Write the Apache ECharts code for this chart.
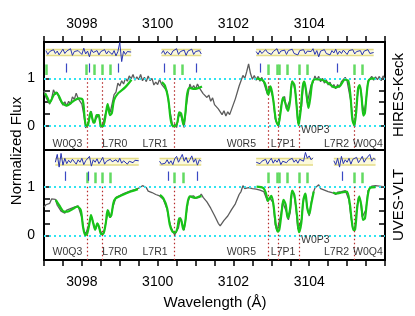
<!DOCTYPE html>
<html>
<head>
<meta charset="utf-8">
<script src="https://cdn.jsdelivr.net/npm/echarts@6/dist/echarts.min.js"></script>
<style>
  html, body { margin: 0; padding: 0; background: #fff; }
  #chart { width: 415px; height: 316px; }
</style>
</head>
<body>
<div id="chart"></div>
<script>
// wavelength sampling of the observed spectra
const lamStart = 3097.0;
const lamStep = 0.05;

// observed normalized flux, HIRES-Keck (top)
const hiresFlux = [
  0.74, 0.60, 0.63, 0.46, 0.57, 0.76, 0.66, 0.71, 0.58, 0.60,
  0.44, 0.51, 0.42, 0.52, 0.46, 0.61, 0.56, 0.69, 0.58, 0.62,
  0.46, 0.24, -0.04, 0.05, 0.16, 0.31, 0.06, 0.13, 0.16, 0.24,
  -0.03, 0.04, 0.06, 0.34, 0.41, 0.29, 0.26, 0.66, 0.71, 0.90,
  0.84, 0.95, 0.88, 1.00, 0.94, 1.05, 0.99, 1.08, 0.96, 1.03,
  0.97, 1.08, 0.95, 1.02, 0.93, 1.05, 0.95, 1.00, 0.86, 0.92,
  0.87, 0.98, 0.88, 0.90, 0.78, 0.72, 0.42, 0.21, -0.02, 0.04,
  -0.03, 0.19, 0.26, 0.24, -0.03, 0.39, 0.66, 0.88, 0.78, 0.85,
  0.77, 0.88, 0.80, 0.84, 0.68, 0.72, 0.60, 0.65, 0.52, 0.59,
  0.45, 0.49, 0.36, 0.39, 0.24, 0.32, 0.21, 0.30, 0.24, 0.35,
  0.36, 0.57, 0.60, 0.84, 0.87, 1.06, 1.00, 1.14, 1.30, 1.10,
  0.98, 1.06, 0.96, 1.04, 0.94, 1.02, 0.91, 0.92, 0.66, 0.84,
  0.80, 0.58, 0.16, 0.05, 0.00, 0.39, 0.56, 0.62, 0.36, 0.38,
  0.56, 0.95, 0.84, 0.63, 0.06, 0.09, 0.42, 0.92, 0.81, 0.49,
  0.46, 0.86, 0.91, 1.05, 0.97, 1.04, 0.93, 1.00, 0.90, 0.97,
  0.86, 0.92, 0.81, 0.87, 0.78, 0.87, 0.81, 0.93, 0.89, 1.02,
  0.94, 0.93, 0.51, 0.14, -0.02, 0.49, 0.78, 0.84, 0.46, 0.29,
  0.51, 0.94, 0.94, 1.04, 0.96, 1.03, 0.97, 1.04, 0.95, 1.05,
  0.98
];

// observed normalized flux, UVES-VLT (bottom)
const uvesFlux = [
  0.58, 0.63, 0.65, 0.66, 0.75, 0.71, 0.74, 0.62, 0.60, 0.50,
  0.51, 0.46, 0.52, 0.49, 0.55, 0.53, 0.58, 0.56, 0.61, 0.48,
  0.37, 0.10, 0.03, 0.06, 0.27, 0.38, 0.27, 0.11, 0.24, 0.16,
  0.08, 0.01, 0.14, 0.33, 0.52, 0.36, 0.53, 0.66, 0.78, 0.76,
  0.82, 0.80, 0.86, 0.83, 0.89, 0.87, 0.92, 0.89, 0.94, 0.91,
  0.97, 0.95, 1.02, 0.98, 0.98, 0.91, 0.92, 0.88, 0.90, 0.84,
  0.86, 0.81, 0.82, 0.74, 0.72, 0.53, 0.32, 0.18, 0.09, 0.01,
  0.09, 0.16, 0.37, 0.23, 0.11, 0.41, 0.68, 0.80, 0.78, 0.81,
  0.76, 0.79, 0.78, 0.85, 0.78, 0.78, 0.69, 0.67, 0.56, 0.54,
  0.41, 0.37, 0.25, 0.20, 0.23, 0.31, 0.30, 0.40, 0.43, 0.53,
  0.54, 0.65, 0.68, 0.84, 0.90, 1.02, 0.96, 0.99, 0.98, 1.01,
  0.96, 0.99, 0.95, 0.98, 0.93, 0.96, 0.90, 0.88, 0.70, 0.78,
  0.78, 0.67, 0.23, 0.09, 0.10, 0.42, 0.68, 0.72, 0.48, 0.32,
  0.48, 0.92, 0.83, 0.57, 0.13, 0.09, 0.33, 0.77, 0.83, 0.57,
  0.40, 0.67, 0.86, 0.97, 0.98, 1.04, 0.96, 0.98, 0.93, 0.96,
  0.90, 0.94, 0.88, 0.90, 0.84, 0.89, 0.86, 0.90, 0.87, 0.92,
  0.83, 0.72, 0.38, 0.15, 0.10, 0.52, 0.78, 0.72, 0.38, 0.35,
  0.53, 0.92, 0.95, 1.01, 0.98, 1.02, 0.99, 1.01, 0.98, 1.00,
  1.00
];

// fitted model profiles [wavelength, flux], one list per fitted region
const hiresModel = [
  [[3097.03, 0.69], [3097.10, 0.58], [3097.15, 0.49], [3097.25, 0.64], [3097.32, 0.70], [3097.40, 0.62],
   [3097.47, 0.50], [3097.60, 0.43], [3097.77, 0.52], [3097.92, 0.58], [3098.02, 0.55], [3098.07, 0.20],
   [3098.11, 0.01], [3098.16, 0.02], [3098.23, 0.30], [3098.29, 0.11], [3098.33, 0.07], [3098.39, 0.23],
   [3098.44, 0.23], [3098.50, 0.01], [3098.56, 0.00], [3098.64, 0.30], [3098.68, 0.46], [3098.74, 0.23],
   [3098.79, 0.27], [3098.85, 0.55], [3098.96, 0.69], [3099.14, 0.81], [3099.31, 0.97]],
  [[3100.11, 0.92], [3100.19, 0.85], [3100.28, 0.57], [3100.34, 0.15], [3100.39, 0.01], [3100.46, 0.00],
   [3100.52, 0.08], [3100.57, 0.29], [3100.62, 0.26], [3100.68, 0.03], [3100.73, 0.26], [3100.78, 0.68],
   [3100.84, 0.80], [3100.94, 0.78], [3101.05, 0.79], [3101.17, 0.83]],
  [[3102.61, 1.00], [3102.75, 0.97], [3102.83, 0.90], [3102.92, 0.66], [3102.98, 0.83], [3103.05, 0.55],
   [3103.12, 0.13], [3103.18, 0.02], [3103.24, 0.27], [3103.31, 0.60], [3103.36, 0.50], [3103.44, 0.32],
   [3103.49, 0.50], [3103.55, 0.93], [3103.61, 0.86], [3103.67, 0.40], [3103.72, 0.02], [3103.77, 0.30],
   [3103.83, 0.83], [3103.87, 0.93], [3103.92, 0.72], [3103.98, 0.38], [3104.03, 0.60], [3104.08, 0.90],
   [3104.15, 0.98], [3104.33, 0.97], [3104.50, 0.90], [3104.68, 0.81], [3104.81, 0.84], [3104.94, 0.97],
   [3105.03, 0.95], [3105.09, 0.62], [3105.14, 0.13], [3105.19, 0.02], [3105.24, 0.30], [3105.29, 0.79],
   [3105.33, 0.86], [3105.38, 0.62], [3105.43, 0.22], [3105.47, 0.28], [3105.52, 0.70], [3105.58, 0.97],
   [3105.73, 1.00]]
];

const uvesModel = [
  [[3097.31, 0.73], [3097.40, 0.62], [3097.53, 0.49], [3097.62, 0.49], [3097.75, 0.54], [3097.88, 0.59],
   [3097.97, 0.52], [3098.03, 0.18], [3098.09, 0.01], [3098.14, 0.04], [3098.20, 0.25], [3098.24, 0.42],
   [3098.30, 0.25], [3098.35, 0.12], [3098.41, 0.25], [3098.45, 0.19], [3098.51, 0.03], [3098.57, 0.04],
   [3098.63, 0.25], [3098.68, 0.52], [3098.74, 0.38], [3098.78, 0.42], [3098.83, 0.66], [3098.89, 0.76],
   [3099.07, 0.83], [3099.29, 0.90], [3099.48, 0.95]],
  [[3100.06, 0.83], [3100.15, 0.76], [3100.25, 0.56], [3100.32, 0.22], [3100.39, 0.08], [3100.46, 0.06],
   [3100.52, 0.15], [3100.57, 0.35], [3100.62, 0.32], [3100.68, 0.12], [3100.73, 0.29], [3100.78, 0.63],
   [3100.85, 0.80], [3100.98, 0.77], [3101.12, 0.80], [3101.16, 0.80]],
  [[3102.61, 1.00], [3102.79, 0.97], [3102.86, 0.86], [3102.91, 0.71], [3102.95, 0.76], [3103.00, 0.81],
   [3103.05, 0.66], [3103.12, 0.22], [3103.17, 0.08], [3103.21, 0.12], [3103.27, 0.46], [3103.32, 0.73],
   [3103.38, 0.63], [3103.43, 0.36], [3103.49, 0.52], [3103.55, 0.92], [3103.61, 0.82], [3103.68, 0.39],
   [3103.73, 0.07], [3103.79, 0.25], [3103.84, 0.69], [3103.90, 0.86], [3103.95, 0.55], [3104.00, 0.44],
   [3104.05, 0.63], [3104.12, 0.90]],
  [[3104.63, 0.88], [3104.72, 0.86], [3104.85, 0.88], [3104.99, 0.90], [3105.07, 0.66], [3105.12, 0.32],
   [3105.17, 0.11], [3105.21, 0.12], [3105.27, 0.59], [3105.32, 0.80], [3105.38, 0.59], [3105.42, 0.32],
   [3105.47, 0.35], [3105.53, 0.73], [3105.60, 0.97], [3105.75, 0.99]]
];

// fit residuals drawn above the spectra: [start wavelength, values]
const hiresResid = [
  [3097.05, [1.58, 1.50, 1.56, 1.53, 1.60, 1.52, 1.57, 1.49, 1.55, 1.61,
             1.52, 1.57, 1.54, 1.62, 1.48, 1.56, 1.52, 1.58, 1.55, 1.50,
             1.63, 1.51, 1.57, 1.45, 1.60, 1.54, 1.52, 1.58, 1.49, 1.56,
             1.53, 1.60, 1.51, 1.57, 1.54, 1.50, 1.58, 1.47, 1.56, 1.75,
             1.35, 1.57, 1.50, 1.56, 1.53, 1.55]],
  [3100.10, [1.52, 1.58, 1.50, 1.56, 1.60, 1.49, 1.57, 1.53, 1.62, 1.50,
             1.56, 1.52, 1.59, 1.48, 1.57, 1.54, 1.61, 1.50, 1.56, 1.53,
             1.58, 1.51]],
  [3102.60, [1.56, 1.50, 1.58, 1.52, 1.48, 1.60, 1.54, 1.57, 1.50, 1.56,
             1.52, 1.62, 1.51, 1.57, 1.53, 1.59, 1.50, 1.58, 1.55, 1.61,
             1.52, 1.56, 1.49, 1.58, 1.54, 1.60, 1.51, 1.57, 1.53, 1.56,
             1.62, 1.50, 1.58, 1.45, 1.57, 1.54, 1.60, 1.52, 1.56, 1.49,
             1.58, 1.53, 1.61, 1.50, 1.57, 1.52, 1.59, 1.55, 1.50, 1.58,
             1.54, 1.60, 1.51, 1.56, 1.52, 1.58, 1.49, 1.57, 1.55, 1.60,
             1.52, 1.56, 1.54]]
];

const uvesResid = [
  [3097.30, [1.50, 1.66, 1.40, 1.68, 1.44, 1.58, 1.47, 1.54, 1.49, 1.56,
             1.52, 1.46, 1.55, 1.50, 1.58, 1.45, 1.53, 1.49, 1.62, 1.42,
             1.55, 1.50, 1.57, 1.47, 1.53, 1.60, 1.46, 1.52, 1.49, 1.56,
             1.51, 1.47, 1.55, 1.50, 1.58, 1.48, 1.53, 1.57, 1.46, 1.52,
             1.55, 1.49, 1.54, 1.50, 1.53]],
  [3100.05, [1.52, 1.46, 1.50, 1.48, 1.55, 1.47, 1.53, 1.45, 1.57, 1.62,
             1.50, 1.58, 1.66, 1.52, 1.60, 1.49, 1.55, 1.63, 1.50, 1.57,
             1.44, 1.55, 1.52]],
  [3102.60, [1.50, 1.54, 1.47, 1.52, 1.49, 1.56, 1.46, 1.53, 1.58, 1.48,
             1.55, 1.50, 1.57, 1.45, 1.52, 1.56, 1.49, 1.54, 1.51, 1.58,
             1.50, 1.55, 1.48, 1.56, 1.60, 1.52, 1.70, 1.58, 1.63, 1.55,
             1.59]],
  [3104.65, [1.53, 1.45, 1.58, 1.40, 1.62, 1.47, 1.55, 1.50, 1.58, 1.46,
             1.56, 1.52, 1.60, 1.49, 1.55, 1.62, 1.50, 1.57, 1.53, 1.66,
             1.52, 1.58, 1.55]]
];
const hiresResidLevel = 1.54;
const uvesResidLevel = 1.51;
const residSigma = 0.065;

// component markers
const hiresBlueTicks = [3097.6, 3098.2, 3098.96, 3100.17, 3101.03, 3102.7, 3104.74];
const hiresGreenTicks = [3097.05, 3098.12, 3098.33, 3098.54, 3098.76, 3100.44, 3100.66,
  3102.92, 3103.15, 3103.2, 3103.42, 3103.73, 3103.95, 3105.18, 3105.4];
const uvesBlueTicks = [3097.55, 3098.17, 3100.28, 3101.05, 3104.87];
const uvesGreenTicks = [3098.13, 3098.36, 3098.54, 3098.76, 3100.44, 3100.68,
  3102.92, 3103.15, 3103.2, 3103.42, 3103.73, 3103.95, 3105.18, 3105.4];

// transitions: red dotted lines and their names
const lineWavelengths = [3098.13, 3098.53, 3100.45, 3102.92, 3103.18, 3103.73, 3105.18];
const lineNames = ['W0Q3', 'L7R0', 'L7R1', 'W0R5', 'L7P1', 'W0P3', 'L7R2', 'W0Q4'];
const lineNameWavelengths = [3097.62, 3098.87, 3099.93, 3102.21, 3103.31, 3104.16, 3104.72, 3105.55];
const hiresNameLevels = [-0.38, -0.38, -0.38, -0.38, -0.38, -0.09, -0.38, -0.38];
const uvesNameLevels = [-0.33, -0.33, -0.33, -0.33, -0.33, -0.09, -0.33, -0.33];

const xTickLabels = [3098, 3100, 3102, 3104];
const yTickValues = [0, 0.25, 0.5, 0.75, 1];
const panelNames = ['HIRES-Keck', 'UVES-VLT'];

const FONT = "'Liberation Sans', Arial, sans-serif";

function spectrumData(flux) {
  return flux.map((f, i) => [lamStart + i * lamStep, f]);
}

function segmentsData(segments) {
  const out = [];
  segments.forEach((seg) => {
    seg.forEach((p) => out.push(p));
    out.push([seg[seg.length - 1][0], null]);
  });
  return out;
}

function residData(resid) {
  const out = [];
  resid.forEach(([start, vals]) => {
    vals.forEach((v, i) => out.push([start + i * lamStep, v]));
    out.push([start, null]);
  });
  return out;
}

function bandEdges(resid, level) {
  const out = [];
  resid.forEach(([start, vals]) => {
    const end = start + (vals.length - 1) * lamStep;
    out.push([start, level + residSigma], [end, level + residSigma], [end, null]);
    out.push([start, level - residSigma], [end, level - residSigma], [end, null]);
  });
  return out;
}

function tickLines(ticks, lo, hi) {
  return ticks.map((l) => [{ coord: [l, lo] }, { coord: [l, hi] }]);
}

const chart = echarts.init(document.getElementById('chart'));

const grids = [
  { left: 44, top: 42, width: 341, height: 108, show: true, borderColor: '#000', borderWidth: 2 },
  { left: 44, top: 150, width: 341, height: 110, show: true, borderColor: '#000', borderWidth: 2 }
];
const yRanges = [[-0.5, 1.76], [-0.5, 1.75]];

const xAxes = [0, 1].map((p) => ({
  gridIndex: p,
  type: 'value',
  min: 3097,
  max: 3106,
  interval: 0.5,
  position: p === 0 ? 'top' : 'bottom',
  axisLine: { onZero: false, lineStyle: { color: '#000', width: 2 } },
  axisTick: { inside: false, length: 6, lineStyle: { color: '#000', width: 1.5 } },
  axisLabel: {
    color: '#000',
    fontSize: 14,
    fontFamily: FONT,
    margin: p === 0 ? 11 : 15,
    formatter: (v) => (xTickLabels.indexOf(v) >= 0 ? String(v) : '')
  },
  splitLine: { show: false }
}));

const yAxes = [];
[0, 1].forEach((p) => {
  ['left', 'right'].forEach((side) => {
    yAxes.push({
      gridIndex: p,
      type: 'value',
      min: yRanges[p][0],
      max: yRanges[p][1],
      position: side,
      axisLine: { show: true, onZero: false, lineStyle: { color: '#000', width: 2 } },
      axisTick: {
        inside: true,
        length: 6,
        customValues: yTickValues,
        lineStyle: { color: '#000', width: 1.5 }
      },
      axisLabel: {
        show: side === 'left',
        customValues: [0, 1],
        color: '#000',
        fontSize: 14,
        fontFamily: FONT,
        margin: 9
      },
      splitLine: { show: false }
    });
  });
});

const panels = [
  { flux: hiresFlux, model: hiresModel, resid: hiresResid, level: hiresResidLevel,
    blue: hiresBlueTicks, green: hiresGreenTicks, nameLevels: hiresNameLevels },
  { flux: uvesFlux, model: uvesModel, resid: uvesResid, level: uvesResidLevel,
    blue: uvesBlueTicks, green: uvesGreenTicks, nameLevels: uvesNameLevels }
];

const series = [];
panels.forEach((pn, p) => {
  const axes = { xAxisIndex: p, yAxisIndex: 2 * p };
  const yMin = yRanges[p][0];
  // continuum / zero guides and transition markers
  series.push(Object.assign({
    type: 'line', data: [], silent: true, z: 1,
    markLine: {
      silent: true, symbol: ['none', 'none'], label: { show: false },
      data: [{ yAxis: 0 }, { yAxis: 1 }],
      lineStyle: { color: '#30e4f0', type: [2, 3], width: 2 }
    }
  }, axes));
  series.push(Object.assign({
    type: 'line', data: [], silent: true, z: 2,
    markLine: {
      silent: true, symbol: ['none', 'none'], label: { show: false },
      data: lineWavelengths.map((l) => [{ coord: [l, 1] }, { coord: [l, yMin] }]),
      lineStyle: { color: '#b52a2a', type: [1.5, 2.5], width: 1.2 }
    }
  }, axes));
  // observed spectrum
  series.push(Object.assign({
    type: 'line', data: spectrumData(pn.flux), showSymbol: false, silent: true, z: 3,
    lineStyle: { color: '#5c5c5c', width: 1.3 }
  }, axes));
  // model fit
  series.push(Object.assign({
    type: 'line', data: segmentsData(pn.model), showSymbol: false, silent: true, z: 5,
    smooth: 0.3, connectNulls: false,
    lineStyle: { color: '#18c418', width: 2.2 }
  }, axes));
  // residual band and residuals
  series.push(Object.assign({
    type: 'line', data: bandEdges(pn.resid, pn.level), showSymbol: false, silent: true, z: 3,
    connectNulls: false,
    lineStyle: { color: '#e4dc86', width: 1.5 },
    markArea: {
      silent: true,
      itemStyle: { color: 'rgba(250,246,205,0.7)' },
      data: pn.resid.map(([start, vals]) => [
        { coord: [start, pn.level - residSigma] },
        { coord: [start + (vals.length - 1) * lamStep, pn.level + residSigma] }
      ])
    }
  }, axes));
  series.push(Object.assign({
    type: 'line', data: residData(pn.resid), showSymbol: false, silent: true, z: 4,
    connectNulls: false,
    lineStyle: { color: '#2834b0', width: 1 }
  }, axes));
  // component ticks
  series.push(Object.assign({
    type: 'line', data: [], silent: true, z: 4,
    markLine: {
      silent: true, symbol: ['none', 'none'], label: { show: false },
      data: tickLines(pn.green, 1.07, 1.29),
      lineStyle: { color: '#62da62', type: 'solid', width: 2.5 }
    }
  }, axes));
  series.push(Object.assign({
    type: 'line', data: [], silent: true, z: 4,
    markLine: {
      silent: true, symbol: ['none', 'none'], label: { show: false },
      data: tickLines(pn.blue, 1.12, 1.31),
      lineStyle: { color: '#3a48c4', type: 'solid', width: 1.2 }
    }
  }, axes));
  // transition names
  series.push(Object.assign({
    type: 'scatter', silent: true, symbolSize: 0, z: 6,
    data: lineNames.map((n, i) => ({ value: [lineNameWavelengths[i], pn.nameLevels[i]], name: n })),
    label: {
      show: true, position: 'inside', formatter: (d) => d.name,
      color: '#000', fontSize: 10.5, fontFamily: FONT
    }
  }, axes));
});

chart.setOption({
  animation: false,
  grid: grids,
  xAxis: xAxes,
  yAxis: yAxes,
  series: series,
  graphic: [
    { type: 'text', x: 17, y: 151, rotation: Math.PI / 2,
      style: { text: 'Normalized Flux', fontSize: 15, fontFamily: FONT, fill: '#000', align: 'center', verticalAlign: 'middle' } },
    { type: 'text', x: 215, y: 303,
      style: { text: 'Wavelength (Å)', fontSize: 15, fontFamily: FONT, fill: '#000', align: 'center', verticalAlign: 'middle' } },
    { type: 'text', x: 399, y: 95, rotation: Math.PI / 2,
      style: { text: panelNames[0], fontSize: 15, fontFamily: FONT, fill: '#000', align: 'center', verticalAlign: 'middle' } },
    { type: 'text', x: 399, y: 205, rotation: Math.PI / 2,
      style: { text: panelNames[1], fontSize: 15, fontFamily: FONT, fill: '#000', align: 'center', verticalAlign: 'middle' } }
  ]
});
</script>
</body>
</html>
